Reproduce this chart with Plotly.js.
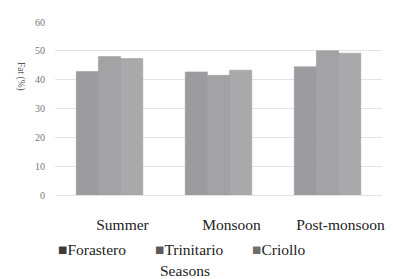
<!DOCTYPE html>
<html>
<head>
<meta charset="utf-8">
<script src="https://cdn.plot.ly/plotly-3.0.1.min.js"></script>
<style>html,body{margin:0;padding:0;background:#fff;}#chart{width:393px;height:279px;}</style>
</head>
<body>
<div id="chart"></div>
<script>
const seasons = ["Summer", "Monsoon", "Post-monsoon"];
const forastero = [42.8, 42.7, 44.5];
const trinitario = [48.0, 41.5, 50.0];
const criollo = [47.3, 43.3, 49.2];
const seriesNames = ["Forastero", "Trinitario", "Criollo"];
const barColors = ["#9c9ca0", "#a3a3a6", "#aaaaad"];
const legendColors = ["#3a3a3a", "#5a5a5a", "#6e6e6e"];
const yTicks = [0, 10, 20, 30, 40, 50, 60];
const yTitle = "Fat (%)";
const xTitle = "Seasons";

const serif = "'Liberation Serif', serif";
const values = [forastero, trinitario, criollo];

const traces = values.map((v, i) => ({
  type: "bar", x: seasons, y: v, name: seriesNames[i],
  marker: {color: barColors[i], line: {color: "#959599", width: 0.5}},
  showlegend: false, hoverinfo: "x+y"
}));
seriesNames.forEach((n, i) => traces.push({
  type: "scatter", mode: "markers", x: [null], y: [null],
  name: "<span style='color:" + legendColors[i] + "'>■</span>" + n,
  marker: {size: 0.1, color: "rgba(0,0,0,0)", line: {width: 0}}, showlegend: true
}));

const layout = {
  width: 393, height: 279,
  margin: {l: 55, r: 11, t: 22, b: 84},
  paper_bgcolor: "#fff", plot_bgcolor: "#fff",
  barmode: "group", bargap: 0.39, bargroupgap: 0,
  font: {family: serif, color: "#222"},
  xaxis: {
    tickfont: {family: serif, size: 15.5, color: "#222"},
    ticks: "", showline: false, showgrid: false, zeroline: false,
    ticklabelstandoff: 18, ticklabelshift: 13
  },
  yaxis: {
    range: [0, 60], tickvals: yTicks, showgrid: true, gridcolor: "#e3e3e3", gridwidth: 1,
    zeroline: true, zerolinecolor: "#e3e3e3", zerolinewidth: 1,
    tickfont: {family: serif, size: 10, color: "#777"}, ticks: "", ticklabelstandoff: 9
  },
  showlegend: true,
  legend: {
    orientation: "h", xref: "container", yref: "container",
    x: 18 / 393, y: 1 - 232 / 279, xanchor: "left", yanchor: "top",
    font: {family: serif, size: 15.5, color: "#222"},
    itemwidth: 30, entrywidth: 52, itemclick: false, bgcolor: "rgba(0,0,0,0)"
  },
  annotations: [{
    text: xTitle, xref: "paper", yref: "paper", x: (185 - 55) / 327, y: -(270 - 195) / 173,
    xanchor: "center", yanchor: "middle", showarrow: false,
    font: {family: serif, size: 15.5, color: "#222"}
  }, {
    text: yTitle, xref: "paper", yref: "paper", x: (21 - 55) / 327, y: (195 - 76) / 173,
    xanchor: "center", yanchor: "middle", showarrow: false, textangle: 90,
    font: {family: serif, size: 9.5, color: "#555"}
  }]
};

Plotly.newPlot("chart", traces, layout, {displayModeBar: false, staticPlot: true});
</script>
</body>
</html>
